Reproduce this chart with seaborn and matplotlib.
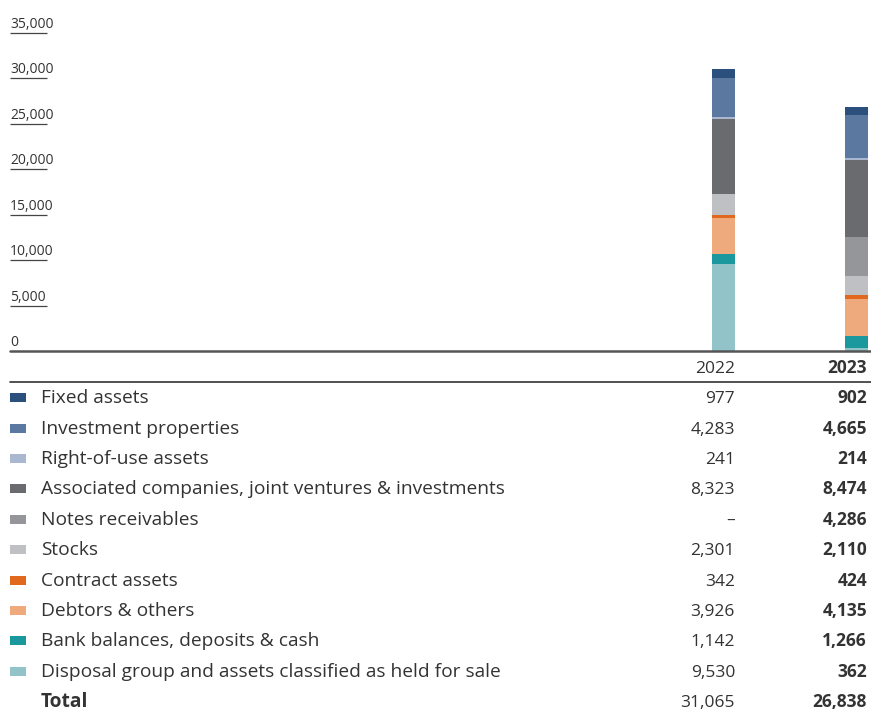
import numpy as np
import pandas as pd
import matplotlib
matplotlib.use("Agg")
import matplotlib.pyplot as plt
import matplotlib.transforms as mtransforms
from matplotlib.lines import Line2D
from matplotlib.patches import Rectangle
import seaborn as sns

# ---------------- data ----------------
years = ["2022", "2023"]
categories = [
    "Fixed assets",
    "Investment properties",
    "Right-of-use assets",
    "Associated companies, joint ventures & investments",
    "Notes receivables",
    "Stocks",
    "Contract assets",
    "Debtors & others",
    "Bank balances, deposits & cash",
    "Disposal group and assets classified as held for sale",
]
values_2022 = [977, 4283, 241, 8323, 0, 2301, 342, 3926, 1142, 9530]
values_2023 = [902, 4665, 214, 8474, 4286, 2110, 424, 4135, 1266, 362]
totals = [31065, 26838]
colors = ["#2b507d", "#5b78a0", "#a9b7d0", "#6a6b6f", "#959699",
          "#bfc0c3", "#e0691f", "#eeaa7c", "#1a989d", "#91c3c8"]
y_ticks = [0, 5000, 10000, 15000, 20000, 25000, 30000, 35000]

# ---------------- style ----------------
sns.set_style("white")
plt.rcParams["font.family"] = ["Open Sans", "DejaVu Sans"]
TXT = "#333333"

W, H = 871, 713
fig = plt.figure(figsize=(W / 100, H / 100), dpi=100)

def fx(px):
    return px / W

def fy(py):
    return 1 - py / H

ax_left, ax_right, ax_top, ax_bot = 10, 871, 33, 351
ax = fig.add_axes([fx(ax_left), fy(ax_bot), fx(ax_right - ax_left), (ax_bot - ax_top) / H])

# stacked bars (bottom of stack = last category)
df = pd.DataFrame({
    "category": categories * 2,
    "year": [years[0]] * len(categories) + [years[1]] * len(categories),
    "value": values_2022 + values_2023,
})
stack_order = categories[::-1]
df["pos"] = df["category"].map({c: i for i, c in enumerate(stack_order)})
df = df.sort_values(["year", "pos"])
df["cum"] = df.groupby("year")["value"].cumsum()

for cat, col in zip(categories, colors):  # top of stack first
    sub = df[df["category"] == cat]
    sns.barplot(data=sub, x="year", y="cum", order=years, color=col,
                saturation=1, width=0.173, errorbar=None, ax=ax,
                linewidth=0)

# axis geometry: category 0 at px 723.5, category 1 at px 856.5
unit = 133.0
ax.set_xlim(0 - (723.5 - ax_left) / unit, 1 + (ax_right - 856.5) / unit)
ax.set_ylim(0, 35000)
ax.set_xticks([])
ax.set_yticks([])
ax.set_xlabel("")
ax.set_ylabel("")
for s in ax.spines.values():
    s.set_visible(False)

# y tick labels with underline
trans = ax.get_yaxis_transform()
off = mtransforms.offset_copy(trans, fig=fig, x=0, y=5, units="dots")
ul = 37 / (ax_right - ax_left)
for v in y_ticks:
    ax.text(0, v, f"{v:,}", transform=off, ha="left", va="baseline",
            fontsize=10, color=TXT, clip_on=False)
    if v > 0:
        ax.plot([0, ul], [v, v], transform=trans, color="#444444",
                lw=0.9, clip_on=False, solid_capstyle="butt")
ax.axhline(0, color="#555555", lw=1.8, clip_on=False)

# ---------------- table ----------------
col22_x, col23_x = 735, 867
fs_lab = 13.8
fs_num = 12.5
fig.text(fx(col22_x), fy(373), years[0], ha="right", va="baseline",
         fontsize=fs_num, color=TXT)
fig.text(fx(col23_x), fy(373), years[1], ha="right", va="baseline",
         fontsize=fs_num, color=TXT, fontweight="bold")
fig.add_artist(Line2D([fx(10), fx(871)], [fy(382), fy(382)],
                      transform=fig.transFigure, color="#333333", lw=1.2))

row_y = [397, 428, 458, 488, 519, 549, 580, 610, 640, 671]

def fmt(v):
    return "–" if v == 0 else f"{v:,}"

for i, cat in enumerate(categories):
    y = row_y[i]
    b = y + 6
    fig.add_artist(Rectangle((fx(10), fy(y + 5)), fx(16) - fx(0), 9 / H,
                             transform=fig.transFigure, facecolor=colors[i],
                             edgecolor="none"))
    fig.text(fx(41), fy(b), cat, ha="left", va="baseline", fontsize=fs_lab, color=TXT)
    fig.text(fx(col22_x), fy(b), fmt(values_2022[i]), ha="right", va="baseline",
             fontsize=fs_num, color=TXT)
    fig.text(fx(col23_x), fy(b), fmt(values_2023[i]), ha="right", va="baseline",
             fontsize=fs_num, color=TXT, fontweight="bold")

fig.text(fx(41), fy(707), "Total", ha="left", va="baseline", fontsize=fs_lab,
         color=TXT, fontweight="bold")
fig.text(fx(col22_x), fy(707), f"{totals[0]:,}", ha="right", va="baseline",
         fontsize=fs_num, color=TXT)
fig.text(fx(col23_x), fy(707), f"{totals[1]:,}", ha="right", va="baseline",
         fontsize=fs_num, color=TXT, fontweight="bold")

fig.savefig("out.png", dpi=100, facecolor="white")
